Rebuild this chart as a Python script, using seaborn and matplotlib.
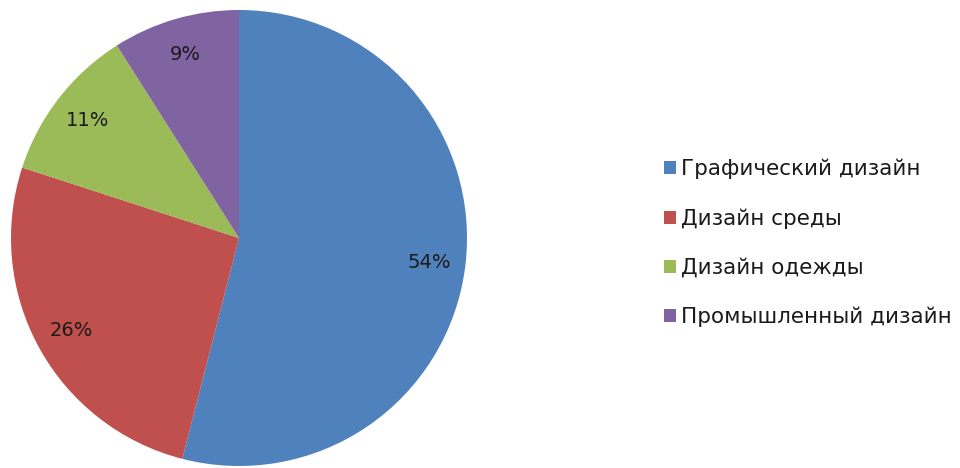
import matplotlib
matplotlib.use("Agg")
import matplotlib.pyplot as plt
import seaborn as sns
from matplotlib.patches import Patch

# data
categories = ["Графический дизайн", "Дизайн среды", "Дизайн одежды", "Промышленный дизайн"]
shares = [54, 26, 11, 9]
colors = ["#4F81BD", "#C0504D", "#9BBB59", "#8064A2"]

sns.set_theme(style="white")
plt.rcParams['font.family'] = ['DejaVu Sans']

fig = plt.figure(figsize=(9.6, 4.68), dpi=100)
ax = fig.add_axes([11 / 960, 2 / 468, 456 / 960, 456 / 468])

wedges, texts, autotexts = ax.pie(
    shares, colors=colors, startangle=90, counterclock=False,
    autopct=lambda p: f"{p:.0f}%", pctdistance=0.84,
    textprops={"fontsize": 14, "color": "#1a1a1a"},
    wedgeprops={"linewidth": 0},
)
ax.set_xlim(-1, 1)
ax.set_ylim(-1, 1)
ax.set_aspect("equal")

handles = [Patch(facecolor=c, edgecolor="none") for c in colors]
fig.legend(handles, categories, loc="center left",
           bbox_to_anchor=(664 / 960, 225 / 468), frameon=False,
           fontsize=15.5, handlelength=0.55, handleheight=0.55,
           handletextpad=0.25, labelspacing=1.35, labelcolor="#1a1a1a",
           borderpad=0, borderaxespad=0)

fig.savefig("out.png", dpi=100)
